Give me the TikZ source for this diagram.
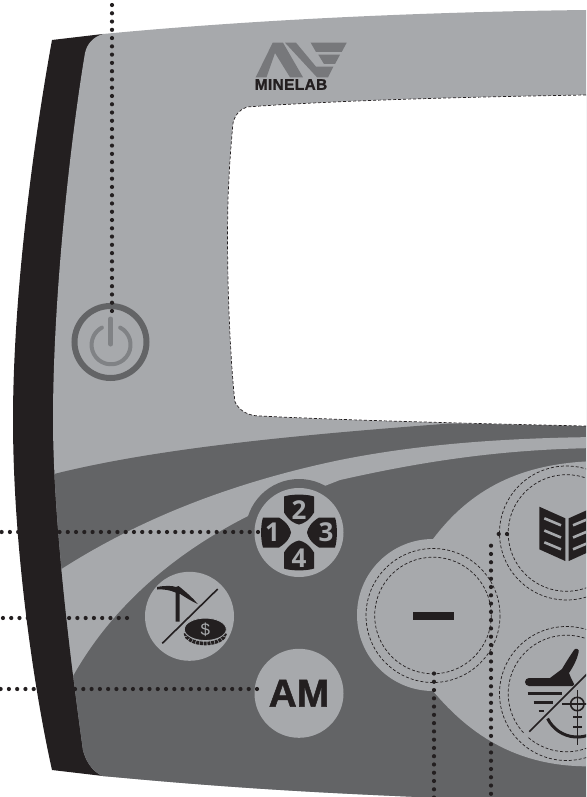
\documentclass[tikz,border=0pt]{standalone}
\usepackage{fontspec}
\setmainfont{Liberation Sans}
\newfontfamily\digitfont{Open Sans}
\definecolor{ink}{HTML}{231F20}
\definecolor{lightp}{HTML}{A7A9AC}
\definecolor{darkp}{HTML}{636466}
\definecolor{midp}{HTML}{808285}
\definecolor{logop}{HTML}{77787B}
\tikzset{
  dots/.style={draw=ink,line width=4.2pt,line cap=round,dash pattern=on 0pt off 8.27pt},
  thin dash/.style={draw=ink,line width=0.7pt,dash pattern=on 3pt off 2pt},
  btn/.style={circle,fill=lightp,inner sep=0pt,minimum size=89pt},
  padtext/.style={text=lightp,inner sep=0pt,font=\digitfont\bfseries\fontsize{26}{26}\selectfont},
  strip/.style={draw=lightp,line width=2.6pt},
}
\newcommand{\panelpath}{(586,10) .. controls (420,12) and (250,20) .. (103,34)
  .. controls (93,37) and (87,44) .. (85,53)
  .. controls (72,130) and (53,290) .. (53,420)
  .. controls (53,500) and (65,620) .. (83,750)
  .. controls (86,762) and (93,772) .. (103,776)
  .. controls (250,790) and (350,794) .. (440,798) -- (600,810) -- (600,10) -- cycle}
\newcommand{\padshape}{(-15,-36) .. controls (-8,-38.5) and (8,-38.5) .. (15,-36) -- (15,-20)
  .. controls (10,-12) and (5,-9) .. (0,-8) .. controls (-5,-9) and (-10,-12) .. (-15,-20) -- cycle}
\begin{document}
\begin{tikzpicture}[x=1pt,y=1pt,yscale=-1]
\useasboundingbox (0,0) rectangle (586,797);
\clip (0,0) rectangle (586,797);
% body
\fill[ink] (52,40) -- (103,34) -- (200,60) -- (200,780) -- (103,776) -- (52,770)
  .. controls (32,680) and (13,540) .. (13,420)
  .. controls (13,300) and (32,150) .. (52,40) -- cycle;
\fill[lightp] \panelpath;
\begin{scope}
  \clip \panelpath;
  \fill[darkp] (40,477) -- (54,474) .. controls (150,450) and (280,436) .. (450,423.5) -- (600,426) -- (600,810) -- (40,810) -- cycle;
  \fill[lightp] (40,582) -- (60,570) .. controls (130,525) and (220,485) .. (340,460)
     .. controls (400,448) and (480,438) .. (600,437) -- (600,448)
     .. controls (500,449) and (420,462) .. (340,480) -- (250,515)
     .. controls (170,555) and (110,610) .. (73,676) -- (40,720) -- cycle;
  \fill[darkp] (299,532.5) circle (53.5);
\end{scope}
% window
\fill[white] (247,107) .. controls (300,103) and (400,98) .. (586,95) -- (600,95) -- (600,427) -- (586,426)
   .. controls (450,423) and (340,420) .. (260,416)
   .. controls (250,416) and (240,412) .. (235,402)
   .. controls (231,370) and (226,280) .. (228,200)
   .. controls (229,170) and (231,145) .. (233,123)
   .. controls (235,115) and (240,109) .. (247,107) -- cycle;
\draw[thin dash] (586,95) .. controls (400,98) and (300,103) .. (247,107)
   .. controls (240,109) and (235,115) .. (233,123)
   .. controls (231,145) and (229,170) .. (228,200)
   .. controls (226,280) and (231,370) .. (235,402)
   .. controls (240,412) and (250,416) .. (260,416)
   .. controls (340,420) and (450,423) .. (586,426);
% logo
\fill[logop] (255.7,77.3) -- (272.7,42.7) -- (283,42.7) -- (303,77.3) -- (290,77.3) -- (275,53) -- (266.5,77.3) -- cycle;
\fill[logop] (285,42.7) -- (296,42.7) -- (316,66.7) -- (333.3,66.7) -- (328,77.3) -- (317,77.3) -- cycle;
\fill[logop] (310.7,42.7) -- (346.7,42.7) -- (341.7,52) -- (316,52) -- cycle;
\fill[logop] (318.3,54.7) -- (340,54.7) -- (335,64) -- (324,64) -- cycle;
\node[inner sep=0pt,text=ink,font=\bfseries\fontsize{15.4}{15.4}\selectfont\addfontfeature{LetterSpace=2.5,FakeBold=1.5}] (brand) at (291,84.5) {MINELAB};
% power
\coordinate (pw) at (110.5,342);
\draw[darkp,line width=6pt] (pw) circle (36);
\draw[midp,line width=4pt,line cap=round] (120.2,327.6) arc (-62:242:19.5);
\draw[midp,line width=5pt,line cap=round] (110.7,319) -- (110.7,344);
% blob
\fill[lightp] (433,539) .. controls (470,490) and (520,462) .. (600,461) -- (600,766) .. controls (520,770) and (470,735) .. (433,691) -- cycle;
\fill[lightp] (433,615) circle (76);
% buttons
\node[btn] (keys) at (299,532.5) {};
\node[btn] (mine) at (189.5,616.3) {};
\node[btn,text=ink,font=\bfseries\fontsize{39}{39}\selectfont\addfontfeature{FakeBold=1.2}] (am) at (299,693.3) {\raisebox{-0.5pt}{AM}};
\foreach \a/\r in {0/0,90/90,180/180,270/270}{
  \fill[ink,shift={(299,532.5)},rotate=\a] \padshape;
}
\node[padtext] (k2) at (299,510) {2};
\node[padtext] (k3) at (326,532.5) {3};
\node[padtext] (k4) at (299,558.5) {4};
\node[padtext] (k1) at (272.5,532.5) {1};
% pick and coin
\fill[ink] (157,587) .. controls (165,585.5) and (172,585.5) .. (176,587) .. controls (177,585.5) and (180,585.5) .. (181,588)
  .. controls (187,593) and (193,598) .. (197.7,604) .. controls (191,601) and (185,597) .. (179.5,593.5) -- (179.5,621.7) -- (175.5,621.7) -- (175.5,592.5)
  .. controls (170,590) and (163,589) .. (157,589.5) -- cycle;
\draw[ink,line width=1.6pt] (162.3,643.3) -- (217.7,589);
\draw[ink,line width=3.6pt,dash pattern=on 3pt off 0.8pt,shift={(205.3,633)}] (-20,0) arc[start angle=180,end angle=0,x radius=20,y radius=10.5];
\fill[ink,draw=lightp,line width=0.8pt] (205.3,629.3) ellipse [x radius=21,y radius=11.2];
\node[inner sep=0pt,text=lightp,font=\fontsize{17}{17}\selectfont] (dollar) at (205.3,630) {\$};
% dashed circles
\foreach \c in {(433,615.5),(566.5,533),(566.5,693.5)}{
  \draw[thin dash] \c circle (67);
  \draw[thin dash] \c circle (58.3);
}
% minus
\fill[ink] (413,612) rectangle (454,620);
% book
\fill[ink] (539.3,506.7) -- (565.3,518.3) -- (565.3,561) -- (539.3,549.3) -- cycle;
\fill[ink] (594.7,506.7) -- (568.7,518.3) -- (568.7,561) -- (594.7,549.3) -- cycle;
\foreach \yy in {0,12.2,24}{
  \draw[strip] (544.3,518.3+\yy) -- (561,525.3+\yy);
  \draw[strip] (589.7,518.3+\yy) -- (573,525.3+\yy);
}
% detector
\fill[ink] (529,678) -- (550,678) -- (562,669) .. controls (566,662) and (570,656) .. (574,650) arc (-150:30:2.6) .. controls (577,660) and (573,667) .. (569,673) -- (571,678) -- (575,686) -- (529,686) arc (90:270:4) -- cycle;
\draw[ink,line width=3.2pt] (527.5,693.3) -- (562,693.3);
\draw[ink,line width=2.4pt] (533.5,702.3) -- (553,702.3);
\draw[ink,line width=1.6pt] (538.5,711) -- (544,711);
\draw[lightp,line width=4pt] (525.3,735.9) -- (590.7,671);
\draw[ink,line width=1.6pt] (529.3,731.7) -- (590,671);
\draw[ink,line width=1.6pt] (577.3,704) circle (6.7);
\draw[ink,line width=1.3pt] (577.3,690) -- (577.3,745);
\draw[ink,line width=1.1pt] (562,704) -- (590,704);
\draw[ink,line width=1.1pt] (573,717) -- (582,717) (573,727) -- (582,727);
\draw[ink,line width=3pt] (547.6,718.5) arc (154:40:33);
% connectors
\coordinate (c1a) at (112,311);   \coordinate (c1b) at (112,-3);
\coordinate (c2a) at (258,532);   \coordinate (c2b) at (-3,532);
\coordinate (c3a) at (127,618);   \coordinate (c3b) at (-3,618);
\coordinate (c4a) at (257,689);   \coordinate (c4b) at (-3,689);
\coordinate (c5a) at (434,673.5); \coordinate (c5b) at (434,800);
\coordinate (c6a) at (507,534);   \coordinate (c6b) at (491,534);
\coordinate (c6c) at (491,545.7); \coordinate (c6d) at (491,800);
\draw[dots] (c1a) -- (c1b);
\draw[dots] (c2a) -- (c2b);
\draw[dots] (c3a) -- (c3b);
\draw[dots] (c4a) -- (c4b);
\draw[dots] (c5a) -- (c5b);
\draw[dots] (c6a) -- (c6b);
\draw[dots] (c6c) -- (c6d);
\end{tikzpicture}
\end{document}
